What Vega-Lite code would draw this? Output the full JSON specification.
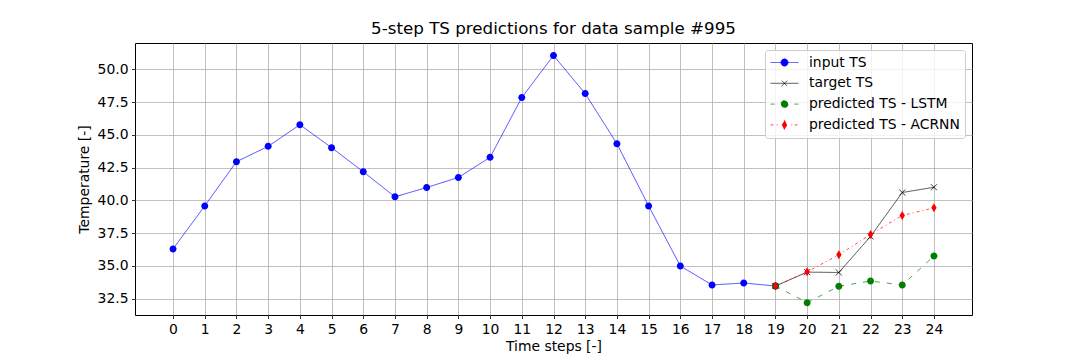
{
  "$schema": "https://vega.github.io/schema/vega-lite/v6.json",
  "width": 837,
  "height": 272,
  "autosize": {"type": "none"},
  "padding": {"left": 135, "top": 43, "right": 108, "bottom": 45},
  "background": "white",
  "title": {"text": "5-step TS predictions for data sample #995", "fontSize": 16.7, "fontWeight": "normal", "font": "DejaVu Sans", "color": "black", "offset": 5},
  "config": {
    "font": "DejaVu Sans",
    "view": {"stroke": "black", "strokeWidth": 1},
    "axis": {"domain": false, "grid": true, "gridColor": "#b0b0b0", "gridWidth": 0.8, "tickColor": "black", "tickSize": 3.5, "tickWidth": 0.8, "labelFontSize": 13.9, "labelColor": "black", "labelPadding": 3.5, "titleFontSize": 13.9, "titleFontWeight": "normal", "titleColor": "black", "labelFont": "DejaVu Sans", "titleFont": "DejaVu Sans", "labelOverlap": false}
  },
  "data": {"values": [
    {"step": 0, "value": 36.30, "series": "input TS"},
    {"step": 1, "value": 39.58, "series": "input TS"},
    {"step": 2, "value": 42.95, "series": "input TS"},
    {"step": 3, "value": 44.12, "series": "input TS"},
    {"step": 4, "value": 45.77, "series": "input TS"},
    {"step": 5, "value": 44.02, "series": "input TS"},
    {"step": 6, "value": 42.18, "series": "input TS"},
    {"step": 7, "value": 40.27, "series": "input TS"},
    {"step": 8, "value": 40.98, "series": "input TS"},
    {"step": 9, "value": 41.75, "series": "input TS"},
    {"step": 10, "value": 43.28, "series": "input TS"},
    {"step": 11, "value": 47.84, "series": "input TS"},
    {"step": 12, "value": 51.05, "series": "input TS"},
    {"step": 13, "value": 48.14, "series": "input TS"},
    {"step": 14, "value": 44.32, "series": "input TS"},
    {"step": 15, "value": 39.58, "series": "input TS"},
    {"step": 16, "value": 35.00, "series": "input TS"},
    {"step": 17, "value": 33.55, "series": "input TS"},
    {"step": 18, "value": 33.70, "series": "input TS"},
    {"step": 19, "value": 33.47, "series": "input TS"},
    {"step": 19, "value": 33.47, "series": "target TS"},
    {"step": 20, "value": 34.53, "series": "target TS"},
    {"step": 21, "value": 34.50, "series": "target TS"},
    {"step": 22, "value": 37.25, "series": "target TS"},
    {"step": 23, "value": 40.60, "series": "target TS"},
    {"step": 24, "value": 41.00, "series": "target TS"},
    {"step": 19, "value": 33.47, "series": "predicted TS - LSTM"},
    {"step": 20, "value": 32.20, "series": "predicted TS - LSTM"},
    {"step": 21, "value": 33.45, "series": "predicted TS - LSTM"},
    {"step": 22, "value": 33.85, "series": "predicted TS - LSTM"},
    {"step": 23, "value": 33.55, "series": "predicted TS - LSTM"},
    {"step": 24, "value": 35.75, "series": "predicted TS - LSTM"},
    {"step": 19, "value": 33.47, "series": "predicted TS - ACRNN"},
    {"step": 20, "value": 34.55, "series": "predicted TS - ACRNN"},
    {"step": 21, "value": 35.85, "series": "predicted TS - ACRNN"},
    {"step": 22, "value": 37.40, "series": "predicted TS - ACRNN"},
    {"step": 23, "value": 38.85, "series": "predicted TS - ACRNN"},
    {"step": 24, "value": 39.43, "series": "predicted TS - ACRNN"}
  ]},
  "encoding": {
    "x": {"field": "step", "type": "quantitative", "scale": {"domain": [-1.2, 25.2], "nice": false, "zero": false}, "axis": {"values": [0,1,2,3,4,5,6,7,8,9,10,11,12,13,14,15,16,17,18,19,20,21,22,23,24], "title": "Time steps [-]", "titlePadding": 4, "labelFlush": false}},
    "y": {"field": "value", "type": "quantitative", "scale": {"domain": [31.26, 52.0], "nice": false, "zero": false}, "axis": {"values": [32.5, 35, 37.5, 40, 42.5, 45, 47.5, 50], "format": ".1f", "title": "Temperature [-]", "titlePadding": 6}},
    "color": {"field": "series", "type": "nominal",
      "scale": {"domain": ["input TS", "target TS", "predicted TS - LSTM", "predicted TS - ACRNN"], "range": ["#0000ff", "#000000", "#008000", "#ff0000"]},
      "legend": {"title": null, "orient": "top-right", "offset": 7, "padding": 5, "symbolSize": 784, "labelOffset": 10, "labelFontSize": 13.9, "labelColor": "black", "labelFont": "DejaVu Sans", "clipHeight": 15, "rowPadding": 5.8, "fillColor": "rgba(255,255,255,0.8)", "strokeColor": "#cccccc", "cornerRadius": 3, "symbolStrokeWidth": 1,
        "encode": {"symbols": {"update": {
          "shape": {"signal": "datum.value === 'input TS' ? 'M-1,0L1,0M0.26,0L0.225,0.13L0.13,0.225L0,0.26L-0.13,0.225L-0.225,0.13L-0.26,0L-0.225,-0.13L-0.13,-0.225L0,-0.26L0.13,-0.225L0.225,-0.13Z' : datum.value === 'target TS' ? 'M-1,0L1,0M-0.2,-0.2L0.2,0.2M-0.2,0.2L0.2,-0.2' : datum.value === 'predicted TS - LSTM' ? 'M-1,0L-0.7,0M0.7,0L1,0M0.26,0L0.225,0.13L0.13,0.225L0,0.26L-0.13,0.225L-0.225,0.13L-0.26,0L-0.225,-0.13L-0.13,-0.225L0,-0.26L0.13,-0.225L0.225,-0.13Z' : 'M-1,0L-0.72,0M-0.56,0L-0.48,0M0.48,0L0.56,0M0.72,0L1,0M0,-0.32L0.19,0L0,0.32L-0.19,0Z'"},
          "fill": {"signal": "scale('color', datum.value)"},
          "stroke": {"signal": "scale('color', datum.value)"},
          "strokeDash": {"value": []},
          "strokeWidth": {"value": 0.8},
          "opacity": {"value": 1}
        }}}
      }
    }
  },
  "layer": [
    {
      "mark": {"type": "line", "clip": true},
      "encoding": {
        "strokeDash": {"field": "series", "type": "nominal", "scale": {"domain": ["input TS", "target TS", "predicted TS - LSTM", "predicted TS - ACRNN"], "range": [[1, 0], [1, 0], [5, 7], [3, 3, 1, 3]]}, "legend": null},
        "strokeWidth": {"field": "series", "type": "ordinal", "scale": {"domain": ["input TS", "target TS", "predicted TS - LSTM", "predicted TS - ACRNN"], "range": [0.7, 0.7, 1, 1]}, "legend": null}
      }
    },
    {
      "transform": [{"filter": "datum.series === 'input TS' || datum.series === 'predicted TS - LSTM'"}],
      "mark": {"type": "point", "filled": true, "size": 16, "strokeWidth": 0.6, "opacity": 1, "shape": "M1.75,0A1.75,1.75,0,1,1,-1.75,0A1.75,1.75,0,1,1,1.75,0Z"}
    },
    {
      "transform": [{"filter": "datum.series === 'target TS'"}],
      "mark": {"type": "point", "filled": false, "size": 16, "strokeWidth": 0.8, "opacity": 1, "shape": "M-1.5,-1.5L1.5,1.5M-1.5,1.5L1.5,-1.5"}
    },
    {
      "transform": [{"filter": "datum.series === 'predicted TS - ACRNN'"}],
      "mark": {"type": "point", "filled": true, "size": 16, "strokeWidth": 0.6, "opacity": 1, "shape": "M0,-2.25L1.35,0L0,2.25L-1.35,0Z"}
    }
  ]
}
